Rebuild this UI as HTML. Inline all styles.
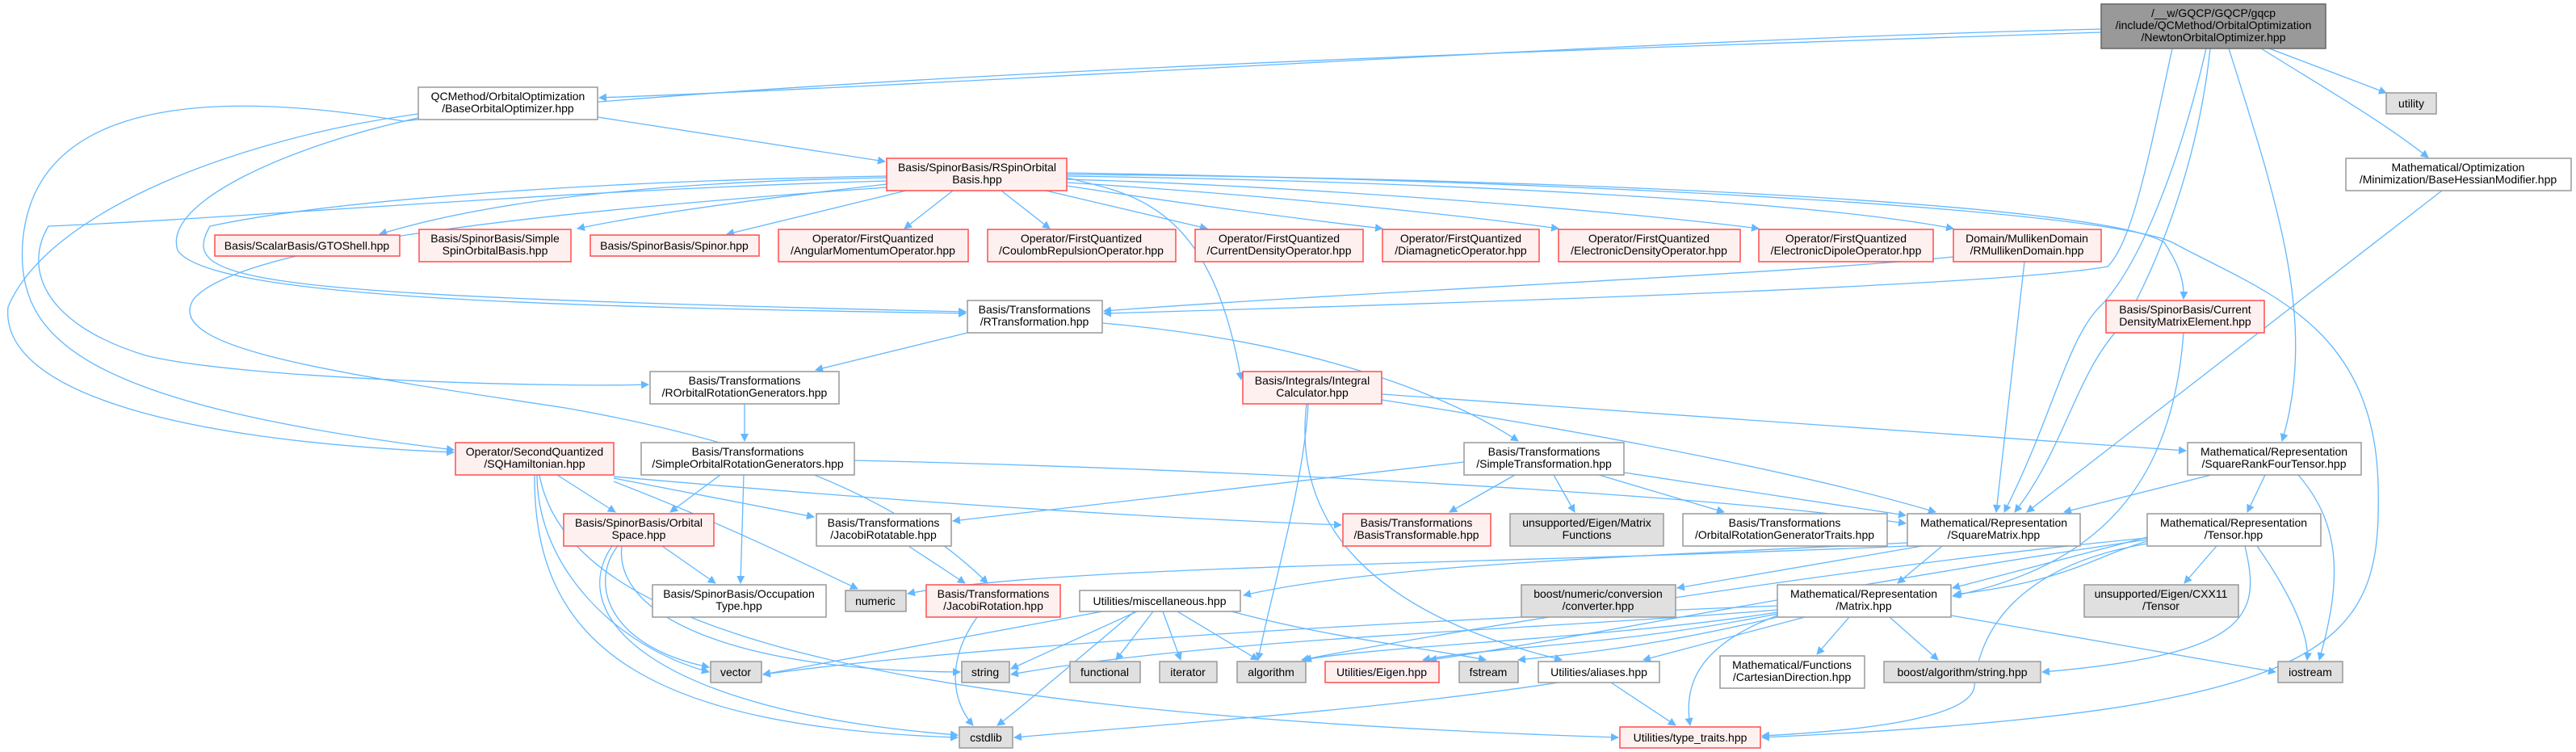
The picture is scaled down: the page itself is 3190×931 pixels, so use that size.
<!DOCTYPE html>
<html><head><meta charset="utf-8"><style>
html,body{margin:0;padding:0;background:#fff;}
svg{display:block;}
text{font-family:"Liberation Sans","DejaVu Sans",sans-serif;font-size:14px;fill:#000;text-anchor:middle;}
.r{fill:#fff0f0;stroke:#ff4d4d;stroke-width:1.5}
.w{fill:#fff;stroke:#999;stroke-width:1.5}
.g{fill:#e0e0e0;stroke:#999;stroke-width:1.5}
.n{fill:#999;stroke:#666;stroke-width:1.5}
.e{fill:none;stroke:#63b8ff;stroke-width:1.3}
</style></head><body>
<svg width="3190" height="931" viewBox="0 0 3190 931" xmlns="http://www.w3.org/2000/svg">
<defs><marker id="a" viewBox="0 0 10 10" refX="9" refY="5" markerWidth="10" markerHeight="10" markerUnits="userSpaceOnUse" orient="auto"><path d="M0,0 L10,5 L0,10 z" fill="#63b8ff"/></marker></defs>
<g class="e" marker-end="url(#a)">
<!-- Newton -->
<path d="M2602,36 C2000,50 1300,100 742,121"/>
<path d="M2810,60 L2955,115"/>
<path d="M2800,60 C2880,110 2950,150 3007,195"/>
<path d="M2760,60 C2820,250 2870,400 2826,546"/>
<path d="M2732,60 C2700,200 2650,330 2600,380 C2560,420 2540,520 2482,634"/>
<path d="M2737,60 C2720,220 2660,350 2630,400 C2570,460 2560,550 2495,634"/>
<path d="M2602,40 C2000,60 1000,90 500,150 C200,100 40,150 28,300 C20,420 100,500 562,557"/>
<path d="M2690,60 C2660,200 2640,300 2610,330 C2500,350 2000,370 1367,388"/>
<!-- BaseOrbitalOptimizer -->
<path d="M740,145 L1096,200"/>
<path d="M518,141 C300,170 60,260 10,380 C0,480 200,545 562,560"/>
<path d="M518,146 C360,180 200,250 220,310 C260,370 700,380 1196,388"/>
<!-- RSpinOrbitalBasis -->
<path d="M1098,220 C800,225 600,250 470,290"/>
<path d="M1098,228 C950,245 800,265 715,283"/>
<path d="M1122,236 L900,290"/>
<path d="M1180,236 L1120,283"/>
<path d="M1240,236 L1300,283"/>
<path d="M1295,236 L1495,283"/>
<path d="M1321,230 C1450,250 1600,270 1712,283"/>
<path d="M1321,226 C1550,240 1800,265 1930,283"/>
<path d="M1321,222 C1600,230 2000,260 2178,283"/>
<path d="M1321,218 C1800,225 2250,250 2419,283"/>
<path d="M1321,216 C1900,220 2600,250 2680,300 C2700,330 2705,350 2704,370"/>
<path d="M1321,214 C2000,225 2600,260 2690,300 C2800,360 2940,400 2945,600 C2950,800 2900,880 2182,913"/>
<path d="M1098,218 C700,225 400,250 260,280 C220,350 300,365 1196,386"/>
<path d="M1098,224 C700,235 300,270 60,280 C30,330 50,400 180,440 C300,470 700,480 803,476"/>
<path d="M1098,232 C700,260 300,300 240,370 C200,430 400,460 700,505 C900,540 1100,600 1223,722"/>
<path d="M1321,220 C1400,240 1500,250 1537,470"/>
<!-- RT -->
<path d="M1198,412 L1010,458"/>
<path d="M1365,400 C1600,420 1780,480 1880,546"/>
<!-- ROG, SORG -->
<path d="M922,500 L922,546"/>
<path d="M892,588 L830,634"/>
<path d="M921,588 L917,722"/>
<path d="M1058,570 C1500,580 2100,610 2360,648"/>
<!-- SQH -->
<path d="M690,588 L762,634"/>
<path d="M760,592 L1008,640"/>
<path d="M760,596 C900,650 1000,700 1062,729"/>
<path d="M760,590 C1100,620 1400,640 1661,650"/>
<path d="M665,588 C665,700 760,800 878,832"/>
<path d="M662,588 C660,800 800,900 1186,913"/>
<path d="M668,588 C700,760 1000,880 2004,913"/>
<!-- OS -->
<path d="M820,676 L886,722"/>
<path d="M765,676 C730,720 750,800 878,826"/>
<path d="M770,676 C760,760 900,830 1189,832"/>
<path d="M758,676 C700,760 800,880 1186,910"/>
<!-- JR, JRot -->
<path d="M1125,676 L1195,722"/>
<path d="M1210,764 C1170,820 1180,870 1205,898"/>
<!-- MISC -->
<path d="M1365,757 L945,835"/>
<path d="M1408,757 L1252,828"/>
<path d="M1428,757 L1382,817"/>
<path d="M1440,757 L1462,817"/>
<path d="M1458,757 L1558,817"/>
<path d="M1405,757 C1330,820 1260,880 1235,898"/>
<path d="M1525,757 C1650,790 1750,800 1840,817"/>
<!-- IC -->
<path d="M1620,500 C1615,600 1570,750 1558,817"/>
<path d="M1618,500 C1600,650 1700,760 1934,817"/>
<path d="M1711,488 L2707,558"/>
<path d="M1711,495 C2000,540 2250,590 2397,634"/>
<!-- SMT -->
<path d="M1876,588 L1795,634"/>
<path d="M1924,588 L1950,634"/>
<path d="M1980,588 L2135,634"/>
<path d="M2011,585 L2360,638"/>
<path d="M1813,572 L1180,645"/>
<!-- SM -->
<path d="M2362,672 C2000,690 1700,700 1540,737"/>
<path d="M2362,676 C1800,700 1300,700 1124,735"/>
<path d="M2380,676 L2077,728"/>
<path d="M2405,676 L2350,722"/>
<!-- MAT -->
<path d="M2201,750 C1700,770 1200,800 945,835"/>
<path d="M2201,755 C1900,780 1500,790 1252,835"/>
<path d="M2201,758 C2000,790 1700,800 1615,817"/>
<path d="M2201,760 C2000,800 1850,800 1762,817"/>
<path d="M2201,764 C2050,800 1950,810 1880,817"/>
<path d="M2235,764 L2035,817"/>
<path d="M2290,764 L2250,810"/>
<path d="M2340,764 L2400,817"/>
<path d="M2416,762 L2818,832"/>
<path d="M2201,762 C2100,800 2085,850 2093,898"/>
<!-- TEN -->
<path d="M2659,665 L2418,728"/>
<path d="M2659,670 C2590,690 2560,720 2420,736"/>
<path d="M2745,676 L2705,722"/>
<path d="M2780,676 C2800,760 2790,810 2529,832"/>
<path d="M2795,676 C2840,740 2860,790 2857,817"/>
<path d="M2659,673 C2500,700 2450,780 2445,850 C2440,890 2300,905 2182,911"/>
<path d="M2659,668 C2300,720 1900,800 1770,817"/>
<path d="M2659,666 C2300,700 1800,780 1612,817"/>
<!-- SRF -->
<path d="M2805,588 L2783,634"/>
<path d="M2846,588 C2900,650 2900,720 2872,817"/>
<path d="M2738,588 L2556,634"/>
<!-- others -->
<path d="M1995,845 L2075,898"/>
<path d="M1930,845 C1700,880 1400,900 1256,913"/>
<path d="M3024,236 L2510,634"/>
<path d="M2507,324 L2472,634"/>
<path d="M2419,318 C2200,340 1700,360 1367,385"/>
<path d="M2704,412 C2690,600 2600,700 2418,738"/>
</g>
<!-- nodes -->
<rect class="n" x="2602" y="5" width="278" height="55"/>
<text x="2741" y="21">/__w/GQCP/GQCP/gqcp</text><text x="2741" y="36">/include/QCMethod/OrbitalOptimization</text><text x="2741" y="51">/NewtonOrbitalOptimizer.hpp</text>

<rect class="w" x="518" y="108" width="222" height="40"/><text x="629" y="124">QCMethod/OrbitalOptimization</text><text x="629" y="139">/BaseOrbitalOptimizer.hpp</text>
<rect class="r" x="1098" y="196" width="223" height="40"/><text x="1210" y="212">Basis/SpinorBasis/RSpinOrbital</text><text x="1210" y="227">Basis.hpp</text>
<rect class="g" x="2955" y="115" width="62" height="26"/><text x="2986" y="133">utility</text>
<rect class="w" x="2905" y="196" width="279" height="40"/><text x="3044" y="212">Mathematical/Optimization</text><text x="3044" y="227">/Minimization/BaseHessianModifier.hpp</text>

<rect class="r" x="266" y="291" width="229" height="26"/><text x="380" y="309">Basis/ScalarBasis/GTOShell.hpp</text>
<rect class="r" x="519" y="284" width="188" height="40"/><text x="613" y="300">Basis/SpinorBasis/Simple</text><text x="613" y="315">SpinOrbitalBasis.hpp</text>
<rect class="r" x="731" y="291" width="209" height="26"/><text x="835" y="309">Basis/SpinorBasis/Spinor.hpp</text>
<rect class="r" x="964" y="284" width="235" height="40"/><text x="1081" y="300">Operator/FirstQuantized</text><text x="1081" y="315">/AngularMomentumOperator.hpp</text>
<rect class="r" x="1223" y="284" width="233" height="40"/><text x="1339" y="300">Operator/FirstQuantized</text><text x="1339" y="315">/CoulombRepulsionOperator.hpp</text>
<rect class="r" x="1480" y="284" width="208" height="40"/><text x="1584" y="300">Operator/FirstQuantized</text><text x="1584" y="315">/CurrentDensityOperator.hpp</text>
<rect class="r" x="1712" y="284" width="194" height="40"/><text x="1809" y="300">Operator/FirstQuantized</text><text x="1809" y="315">/DiamagneticOperator.hpp</text>
<rect class="r" x="1930" y="284" width="225" height="40"/><text x="2042" y="300">Operator/FirstQuantized</text><text x="2042" y="315">/ElectronicDensityOperator.hpp</text>
<rect class="r" x="2178" y="284" width="216" height="40"/><text x="2286" y="300">Operator/FirstQuantized</text><text x="2286" y="315">/ElectronicDipoleOperator.hpp</text>
<rect class="r" x="2419" y="284" width="183" height="40"/><text x="2510" y="300">Domain/MullikenDomain</text><text x="2510" y="315">/RMullikenDomain.hpp</text>

<rect class="w" x="1198" y="372" width="167" height="40"/><text x="1281" y="388">Basis/Transformations</text><text x="1281" y="403">/RTransformation.hpp</text>
<rect class="r" x="2608" y="372" width="196" height="40"/><text x="2706" y="388">Basis/SpinorBasis/Current</text><text x="2706" y="403">DensityMatrixElement.hpp</text>

<rect class="w" x="805" y="460" width="234" height="40"/><text x="922" y="476">Basis/Transformations</text><text x="922" y="491">/ROrbitalRotationGenerators.hpp</text>
<rect class="r" x="1539" y="460" width="172" height="40"/><text x="1625" y="476">Basis/Integrals/Integral</text><text x="1625" y="491">Calculator.hpp</text>

<rect class="r" x="564" y="548" width="196" height="40"/><text x="662" y="564">Operator/SecondQuantized</text><text x="662" y="579">/SQHamiltonian.hpp</text>
<rect class="w" x="794" y="548" width="264" height="40"/><text x="926" y="564">Basis/Transformations</text><text x="926" y="579">/SimpleOrbitalRotationGenerators.hpp</text>
<rect class="w" x="1813" y="548" width="198" height="40"/><text x="1912" y="564">Basis/Transformations</text><text x="1912" y="579">/SimpleTransformation.hpp</text>
<rect class="w" x="2709" y="548" width="215" height="40"/><text x="2816" y="564">Mathematical/Representation</text><text x="2816" y="579">/SquareRankFourTensor.hpp</text>

<rect class="r" x="698" y="636" width="186" height="40"/><text x="791" y="652">Basis/SpinorBasis/Orbital</text><text x="791" y="667">Space.hpp</text>
<rect class="w" x="1011" y="636" width="167" height="40"/><text x="1094" y="652">Basis/Transformations</text><text x="1094" y="667">/JacobiRotatable.hpp</text>
<rect class="r" x="1663" y="636" width="183" height="40"/><text x="1754" y="652">Basis/Transformations</text><text x="1754" y="667">/BasisTransformable.hpp</text>
<rect class="g" x="1870" y="636" width="190" height="40"/><text x="1965" y="652">unsupported/Eigen/Matrix</text><text x="1965" y="667">Functions</text>
<rect class="w" x="2084" y="636" width="253" height="40"/><text x="2210" y="652">Basis/Transformations</text><text x="2210" y="667">/OrbitalRotationGeneratorTraits.hpp</text>
<rect class="w" x="2362" y="636" width="214" height="40"/><text x="2469" y="652">Mathematical/Representation</text><text x="2469" y="667">/SquareMatrix.hpp</text>
<rect class="w" x="2659" y="636" width="215" height="40"/><text x="2766" y="652">Mathematical/Representation</text><text x="2766" y="667">/Tensor.hpp</text>

<rect class="w" x="808" y="724" width="215" height="40"/><text x="915" y="740">Basis/SpinorBasis/Occupation</text><text x="915" y="755">Type.hpp</text>
<rect class="g" x="1047" y="731" width="75" height="26"/><text x="1084" y="749">numeric</text>
<rect class="r" x="1147" y="724" width="166" height="40"/><text x="1230" y="740">Basis/Transformations</text><text x="1230" y="755">/JacobiRotation.hpp</text>
<rect class="w" x="1337" y="731" width="199" height="26"/><text x="1436" y="749">Utilities/miscellaneous.hpp</text>
<rect class="g" x="1884" y="724" width="191" height="40"/><text x="1979" y="740">boost/numeric/conversion</text><text x="1979" y="755">/converter.hpp</text>
<rect class="w" x="2201" y="724" width="215" height="40"/><text x="2308" y="740">Mathematical/Representation</text><text x="2308" y="755">/Matrix.hpp</text>
<rect class="g" x="2581" y="724" width="191" height="40"/><text x="2676" y="740">unsupported/Eigen/CXX11</text><text x="2676" y="755">/Tensor</text>

<rect class="g" x="880" y="819" width="63" height="26"/><text x="911" y="837">vector</text>
<rect class="g" x="1191" y="819" width="59" height="26"/><text x="1220" y="837">string</text>
<rect class="g" x="1325" y="819" width="87" height="26"/><text x="1368" y="837">functional</text>
<rect class="g" x="1436" y="819" width="71" height="26"/><text x="1471" y="837">iterator</text>
<rect class="g" x="1532" y="819" width="85" height="26"/><text x="1574" y="837">algorithm</text>
<rect class="r" x="1641" y="819" width="141" height="26"/><text x="1711" y="837">Utilities/Eigen.hpp</text>
<rect class="g" x="1807" y="819" width="73" height="26"/><text x="1843" y="837">fstream</text>
<rect class="w" x="1905" y="819" width="150" height="26"/><text x="1980" y="837">Utilities/aliases.hpp</text>
<rect class="w" x="2130" y="812" width="179" height="40"/><text x="2219" y="828">Mathematical/Functions</text><text x="2219" y="843">/CartesianDirection.hpp</text>
<rect class="g" x="2333" y="819" width="194" height="26"/><text x="2430" y="837">boost/algorithm/string.hpp</text>
<rect class="g" x="2821" y="819" width="80" height="26"/><text x="2861" y="837">iostream</text>
<rect class="g" x="1188" y="900" width="66" height="26"/><text x="1221" y="918">cstdlib</text>
<rect class="r" x="2006" y="900" width="174" height="26"/><text x="2093" y="918">Utilities/type_traits.hpp</text>
</svg>
</body></html>
